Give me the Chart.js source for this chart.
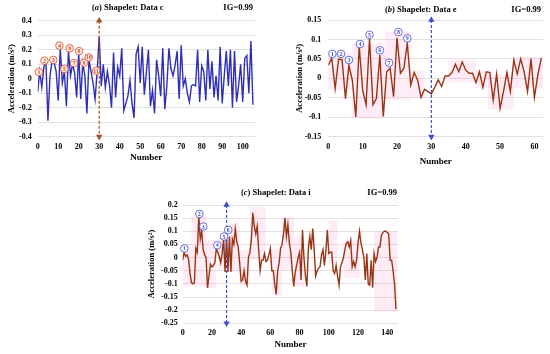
<!DOCTYPE html>
<html>
<head>
<meta charset="utf-8">
<script src="https://cdn.jsdelivr.net/npm/chart.js@4"></script>
<style>
  body { margin: 0; background: #fff; width: 550px; height: 354px; position: relative; overflow: hidden; }
  .box { position: absolute; }
</style>
</head>
<body>
<div class="box" style="left:0;top:0;width:275px;height:170px"><canvas id="chartA"></canvas></div>
<div class="box" style="left:275px;top:0;width:275px;height:170px"><canvas id="chartB"></canvas></div>
<div class="box" style="left:130px;top:170px;width:300px;height:184px"><canvas id="chartC"></canvas></div>
<script>
// series values (index = sample number)
var dataA = [-0.09, 0.05, -0.06, 0.08, 0.12, -0.29, 0.02, 0.12, 0.11, 0.05,
  -0.15, 0.21, -0.03, 0.05, -0.19, 0.19, 0.02, 0.1, 0.04, -0.13,
  0.18, -0.14, 0.11, 0.02, -0.24, 0.13, 0.05, -0.03, -0.14, 0.05,
  0.29, -0.05, 0.1, -0.06, 0.05, -0.04, -0.2, 0.18, -0.13, 0.08,
  0.02, 0.21, -0.22, -0.17, -0.12, -0.01, -0.17, -0.27, 0.17, 0.22,
  -0.03, 0.22, -0.11, 0.04, 0.2, -0.19, -0.08, -0.24, 0.13, 0.02,
  -0.12, 0.21, -0.21, -0.05, 0.21, 0.07, 0.02, 0.09, 0.19, -0.14,
  0.23, -0.05, 0.0, -0.1, -0.16, -0.05, -0.04, -0.05, 0.2, -0.16,
  0.09, 0.05, -0.15, 0.2, -0.07, 0.12, -0.13, 0.02, -0.15, 0.22,
  -0.17, 0.02, 0.19, -0.05, 0.2, -0.2, 0.19, -0.16, -0.05, 0.1,
  -0.16, 0.14, 0.16, -0.1, 0.26, -0.18];

var dataB = [0.034, 0.052, -0.026, 0.049, 0.048, -0.052, 0.034, -0.005, -0.099, 0.082,
  -0.03, -0.068, 0.103, -0.068, -0.052, 0.06, -0.098, 0.017, 0.026, -0.047,
  0.104, 0.013, 0.026, 0.09, -0.017, 0.015, -0.004, -0.049, -0.028, -0.034,
  -0.04, -0.023, -0.004, -0.021, 0.006, 0.006, 0.015, 0.036, 0.017, 0.042,
  0.021, 0.013, 0.013, -0.011, 0.017, -0.023, 0.017, 0.015, -0.056, 0.011,
  -0.077, -0.034, 0.015, -0.034, 0.047, 0.011, 0.05, 0.017, -0.034, 0.05,
  -0.049, 0.009, 0.052];

var dataC = [-0.01, 0.02, 0.005, 0.01, -0.005, -0.06, -0.095, -0.1, -0.095, 0.035,
  0.02, 0.16, 0.07, 0.1, 0.03, 0.01, 0, -0.115, -0.07, -0.025,
  -0.035, -0.03, -0.02, 0.035, 0.02, 0.005, -0.02, 0.015, 0.07, -0.055,
  0.085, -0.055, 0.08, -0.055, 0.07, 0.05, 0.11, 0.06, 0.04, -0.02,
  -0.09, -0.085, -0.05, -0.09, -0.105, 0, 0.02, 0.07, 0.17, 0.12,
  0.09, 0.12, 0.03, -0.05, -0.01, -0.01, 0.015, -0.015, -0.01, 0.01,
  0.035, -0.05, -0.05, -0.1, -0.14, -0.05, -0.02, 0.035, 0.05, 0.09,
  0.15, 0.08, 0.125, 0.055, 0.02, -0.05, -0.11, -0.055, -0.03, 0,
  0.02, -0.085, 0.105, 0, -0.07, -0.11, 0.035, 0.08, 0.03, 0.11,
  0.03, -0.07, -0.05, -0.04, -0.035, 0.01, 0.03, -0.03, 0.025, 0.105,
  0.015, 0.02, 0.02, -0.05, -0.06, -0.03, -0.07, -0.105, -0.035, -0.02,
  0, 0.03, 0.055, 0.06, 0.04, 0.065, -0.035, -0.015, -0.035, -0.01,
  0.055, 0.1, 0.055, 0.03, 0, -0.085, 0.015, -0.1, -0.105, -0.01,
  -0.115, 0.015, -0.015, 0, 0.04, 0.04, 0.085, 0.095, 0.1, 0.1,
  0.095, 0.09, -0.01, -0.01, -0.05, -0.1, -0.196];

// numbered shapelet markers
var markA_x = [0.6, 3.3, 7.6, 10.6, 13, 15.6, 17.7, 20.2, 22.6, 24.9, 28.5];
var markA_y = [0.046, 0.124, 0.13, 0.228, 0.067, 0.21, 0.108, 0.19, 0.11, 0.147, 0.055];
var markB_x = [1.2, 3.7, 6, 9.2, 12, 15, 17.7, 20.4, 23];
var markB_y = [0.063, 0.063, 0.047, 0.088, 0.112, 0.072, 0.04, 0.119, 0.103];
var markC_x = [1.1, 11.4, 14.1, 23.7, 28.3, 31.2];
var markC_y = [0.035, 0.166, 0.118, 0.047, 0.08, 0.105];

// shaded segments (start, end, low, high)
var shadeB_start = [0, 7, 16.5, 24, 35, 43, 46.5, 54];
var shadeB_end = [7, 16.5, 24, 28, 43, 47, 54, 62.5];
var shadeB_low = [-0.03, -0.103, -0.056, -0.05, -0.01, -0.025, -0.08, -0.025];
var shadeB_high = [0.065, 0.09, 0.12, 0.02, 0.047, 0.02, 0.01, 0.055];
var shadeC_start = [0, 6, 16, 24, 31, 39, 46, 61, 68, 76, 100, 110, 131];
var shadeC_end = [6, 16.4, 23, 32, 39, 46, 57, 68, 76, 83, 106, 121, 147];
var shadeC_low = [-0.11, -0.11, -0.117, -0.047, -0.053, -0.105, -0.01, -0.142, -0.047, -0.11, -0.022, -0.078, -0.205];
var shadeC_high = [0.048, 0.156, 0.067, 0.08, 0.13, 0.03, 0.194, 0.03, 0.155, 0.08, 0.14, 0.067, 0.1];

var cutX = 30;
var serif = '"Liberation Serif", "Times New Roman", serif';

function points(arr) {
  return arr.map(function (v, i) { return { x: i, y: v }; });
}
function pairs(xs, ys) {
  return xs.map(function (x, i) { return { x: x, y: ys[i] }; });
}

var headerPlugin = {
  id: 'header',
  afterDraw: function (chart, args, opts) {
    var ctx = chart.ctx;
    var x = opts.x;
    ctx.save();
    ctx.fillStyle = '#000';
    ctx.textBaseline = 'middle';
    ctx.font = 'bold 8.5px ' + serif;
    ctx.fillText('(', x, opts.y);
    x += ctx.measureText('(').width;
    ctx.font = 'italic bold 8.5px ' + serif;
    ctx.fillText(opts.letter, x, opts.y);
    x += ctx.measureText(opts.letter).width;
    ctx.font = 'bold 8.5px ' + serif;
    ctx.fillText(') ' + opts.text, x, opts.y);
    ctx.textAlign = 'right';
    ctx.fillText('IG=0.99', opts.igRight, opts.y);
    ctx.restore();
  }
};

var shadePlugin = {
  id: 'shade',
  beforeDatasetsDraw: function (chart, args, opts) {
    if (!opts.start) return;
    var ctx = chart.ctx, xs = chart.scales.x, ys = chart.scales.y;
    ctx.save();
    ctx.fillStyle = 'rgba(255, 110, 190, 0.13)';
    for (var i = 0; i < opts.start.length; i++) {
      var x0 = xs.getPixelForValue(opts.start[i]);
      var x1 = xs.getPixelForValue(opts.end[i]);
      var y0 = ys.getPixelForValue(opts.high[i]);
      var y1 = ys.getPixelForValue(opts.low[i]);
      ctx.fillRect(x0, y0, x1 - x0, y1 - y0);
    }
    ctx.restore();
  }
};

var numberPlugin = {
  id: 'numbers',
  afterDatasetsDraw: function (chart) {
    var ctx = chart.ctx;
    chart.data.datasets.forEach(function (ds, di) {
      if (!ds.markerText) return;
      var meta = chart.getDatasetMeta(di);
      ctx.save();
      ctx.font = 'bold 6px ' + serif;
      ctx.fillStyle = ds.borderColor;
      ctx.textAlign = 'center';
      ctx.textBaseline = 'middle';
      meta.data.forEach(function (pt, i) {
        ctx.fillText(String(i + 1), pt.x, pt.y + 0.5);
      });
      ctx.restore();
    });
  }
};

function makeChart(id, cfg) {
  var ctx = document.getElementById(id).getContext('2d');
  return new Chart(ctx, {
    type: 'line',
    data: {
      datasets: [
        {
          data: points(cfg.values),
          borderColor: cfg.lineColor,
          borderWidth: 1.4,
          pointRadius: 0,
          tension: 0,
          order: 3
        },
        {
          data: [{ x: cutX, y: cfg.yMax }, { x: cutX, y: cfg.yMin }],
          borderColor: cfg.cutColor,
          backgroundColor: cfg.cutColor,
          borderWidth: 1.2,
          borderDash: [3, 2],
          pointStyle: 'triangle',
          pointRadius: 2.5,
          pointRotation: [0, 180],
          clip: 8,
          order: 2
        },
        {
          data: pairs(cfg.markX, cfg.markY),
          showLine: false,
          borderColor: cfg.markColor,
          backgroundColor: cfg.markFill,
          borderWidth: 0.8,
          pointRadius: 3.8,
          markerText: true,
          clip: 8,
          order: 1
        }
      ]
    },
    options: {
      responsive: true,
      maintainAspectRatio: false,
      animation: false,
      layout: { padding: { left: 0, right: cfg.padRight, top: cfg.padTop, bottom: 0 } },
      plugins: {
        legend: { display: false },
        tooltip: { enabled: false },
        header: cfg.header,
        shade: cfg.shade || {}
      },
      scales: {
        x: {
          type: 'linear',
          min: 0,
          max: cfg.xMax,
          grid: { display: false, drawTicks: false },
          border: { display: false },
          ticks: {
            stepSize: cfg.xStep,
            includeBounds: false,
            padding: 5,
            color: '#000',
            maxRotation: 0,
            font: { family: serif, size: 8, weight: 'bold' }
          },
          title: {
            display: true,
            text: 'Number',
            color: '#000',
            padding: { top: 0, bottom: cfg.numberPad },
            font: { family: serif, size: 9, weight: 'bold' }
          },
          afterFit: function (scale) { scale.height = cfg.xHeight; }
        },
        y: {
          min: cfg.yMin,
          max: cfg.yMax,
          grid: { color: '#d9d9d9', lineWidth: 0.8, drawTicks: false },
          border: { display: false },
          ticks: {
            stepSize: cfg.yStep,
            padding: cfg.yTickPad,
            color: '#000',
            font: { family: serif, size: 8, weight: 'bold' },
            callback: function (v) { return String(+v.toFixed(2)); }
          },
          title: {
            display: true,
            text: 'Acceleration (m/s\u00b2)',
            color: '#000',
            padding: { top: cfg.accelPad, bottom: 0 },
            font: { family: serif, size: 8.5, weight: 'bold' }
          },
          afterFit: function (scale) { scale.width = cfg.yWidth; }
        }
      }
    },
    plugins: [shadePlugin, headerPlugin, numberPlugin]
  });
}

makeChart('chartA', {
  values: dataA, lineColor: '#2e2eb8', cutColor: '#a0521d',
  markX: markA_x, markY: markA_y, markColor: '#d9472b', markFill: '#fdf1e4',
  xMax: 106, xStep: 10, yMin: -0.4, yMax: 0.4, yStep: 0.1,
  yWidth: 37.7, xHeight: 33.3, padTop: 20.7, padRight: 20,
  yTickPad: 6, accelPad: 6.4, numberPad: 6.6,
  header: { x: 92, y: 8, letter: 'a', text: 'Shapelet: Data c', igRight: 253 }
});

makeChart('chartB', {
  values: dataB, lineColor: '#9a3412', cutColor: '#3f4fd0',
  markX: markB_x, markY: markB_y, markColor: '#3f4fd0', markFill: '#ffffff',
  xMax: 62.5, xStep: 10, yMin: -0.15, yMax: 0.15, yStep: 0.05,
  yWidth: 53.3, xHeight: 33.3, padTop: 20, padRight: 7,
  yTickPad: 7, accelPad: 20, numberPad: 2.6,
  header: { x: 110, y: 9.3, letter: 'b', text: 'Shapelet: Data e', igRight: 266 },
  shade: { start: shadeB_start, end: shadeB_end, low: shadeB_low, high: shadeB_high }
});

makeChart('chartC', {
  values: dataC, lineColor: '#9a3412', cutColor: '#3f4fd0',
  markX: markC_x, markY: markC_y, markColor: '#3f4fd0', markFill: '#ffffff',
  xMax: 147.5, xStep: 20, yMin: -0.25, yMax: 0.2, yStep: 0.05,
  yWidth: 52.7, xHeight: 30.7, padTop: 35, padRight: 31.8,
  yTickPad: 5, accelPad: 16.3, numberPad: 3.6,
  header: { x: 111, y: 22.7, letter: 'c', text: 'Shapelet: Data i', igRight: 267 },
  shade: { start: shadeC_start, end: shadeC_end, low: shadeC_low, high: shadeC_high }
});
</script>
</body>
</html>
